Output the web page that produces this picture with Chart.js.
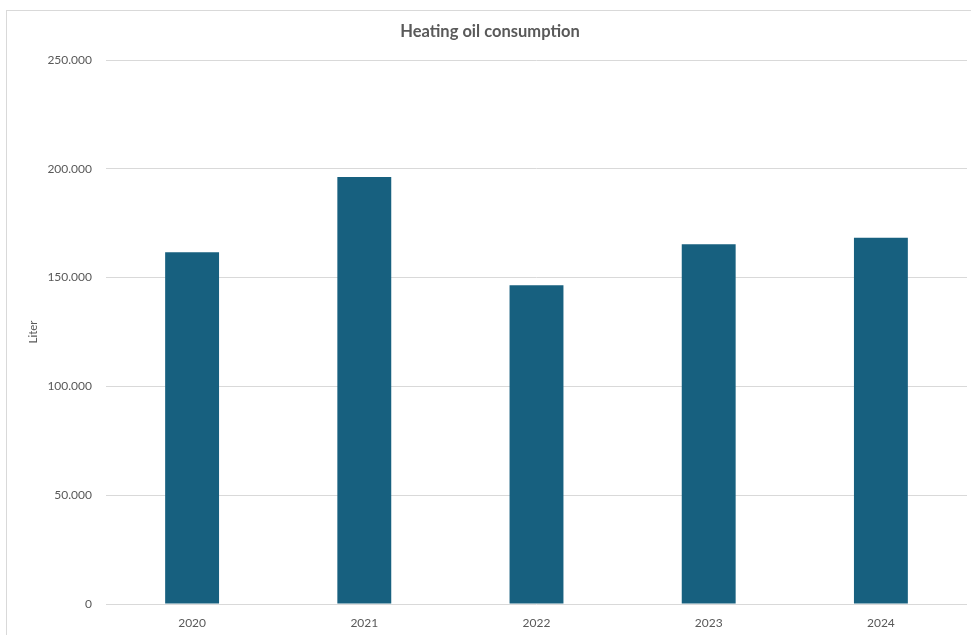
<!DOCTYPE html>
<html>
<head>
<meta charset="utf-8">
<script src="https://cdn.jsdelivr.net/npm/chart.js@4"></script>
<style>
  html, body { margin: 0; padding: 0; background: #fff; }
  #wrap { position: relative; width: 971px; height: 635px; overflow: hidden; }
  #frame { position: absolute; left: 6px; top: 10px; width: 1000px; height: 700px; border: 1px solid #d9d9d9; box-sizing: border-box; }
  canvas { position: absolute; left: 0; top: 0; }
</style>
</head>
<body>
<div id="wrap">
  <div id="frame"></div>
  <canvas id="chart" width="971" height="635"></canvas>
</div>
<script>
const years = ["2020", "2021", "2022", "2023", "2024"];
const liters = [161600, 196200, 146500, 165300, 168300];
const yTicks = [0, 50000, 100000, 150000, 200000, 250000];
const chartTitle = "Heating oil consumption";

const TEXT = "#595959";
const GRID = "#d9d9d9";
const BAR = "#17607f";
const FONT = "Lato, 'Open Sans', sans-serif";

// 250000 -> "250.000"
function fmt(v) {
  return String(v).replace(/\B(?=(\d{3})+(?!\d))/g, ".");
}

// title sits centred on the frame, not on the plot area
const titlePlugin = {
  id: "frameTitle",
  afterDraw(chart) {
    const ctx = chart.ctx;
    ctx.save();
    ctx.fillStyle = TEXT;
    ctx.font = "bold 16.5px " + FONT;
    ctx.textAlign = "center";
    ctx.textBaseline = "middle";
    ctx.fillText(chartTitle, 490, 32);
    ctx.restore();
  },
};

new Chart(document.getElementById("chart"), {
  type: "bar",
  data: {
    labels: years,
    datasets: [{
      label: "Liter",
      data: liters,
      backgroundColor: BAR,
      borderWidth: 0,
      barPercentage: 0.313,
      categoryPercentage: 1,
    }],
  },
  plugins: [titlePlugin],
  options: {
    responsive: false,
    animation: false,
    layout: { padding: { left: 22, right: 4, top: 60, bottom: 0 } },
    plugins: {
      legend: { display: false },
      tooltip: { enabled: false },
      title: { display: false },
    },
    scales: {
      x: {
        grid: { display: false },
        border: { display: false },
        ticks: { color: TEXT, font: { family: FONT, size: 12 }, padding: 4 },
        afterFit(scale) { scale.height = 31; },
      },
      y: {
        min: 0,
        max: 250000,
        afterBuildTicks(scale) { scale.ticks = yTicks.map(v => ({ value: v })); },
        grid: { color: GRID, lineWidth: 1, drawTicks: false },
        border: { display: false },
        ticks: {
          color: TEXT,
          font: { family: FONT, size: 12 },
          padding: 14,
          callback: v => fmt(v),
        },
        title: {
          display: true,
          text: "Liter",
          color: TEXT,
          font: { family: FONT, size: 11.5 },
          padding: { top: 4, bottom: 0 },
        },
        afterFit(scale) { scale.width = 84; },
      },
    },
  },
});
</script>
</body>
</html>
